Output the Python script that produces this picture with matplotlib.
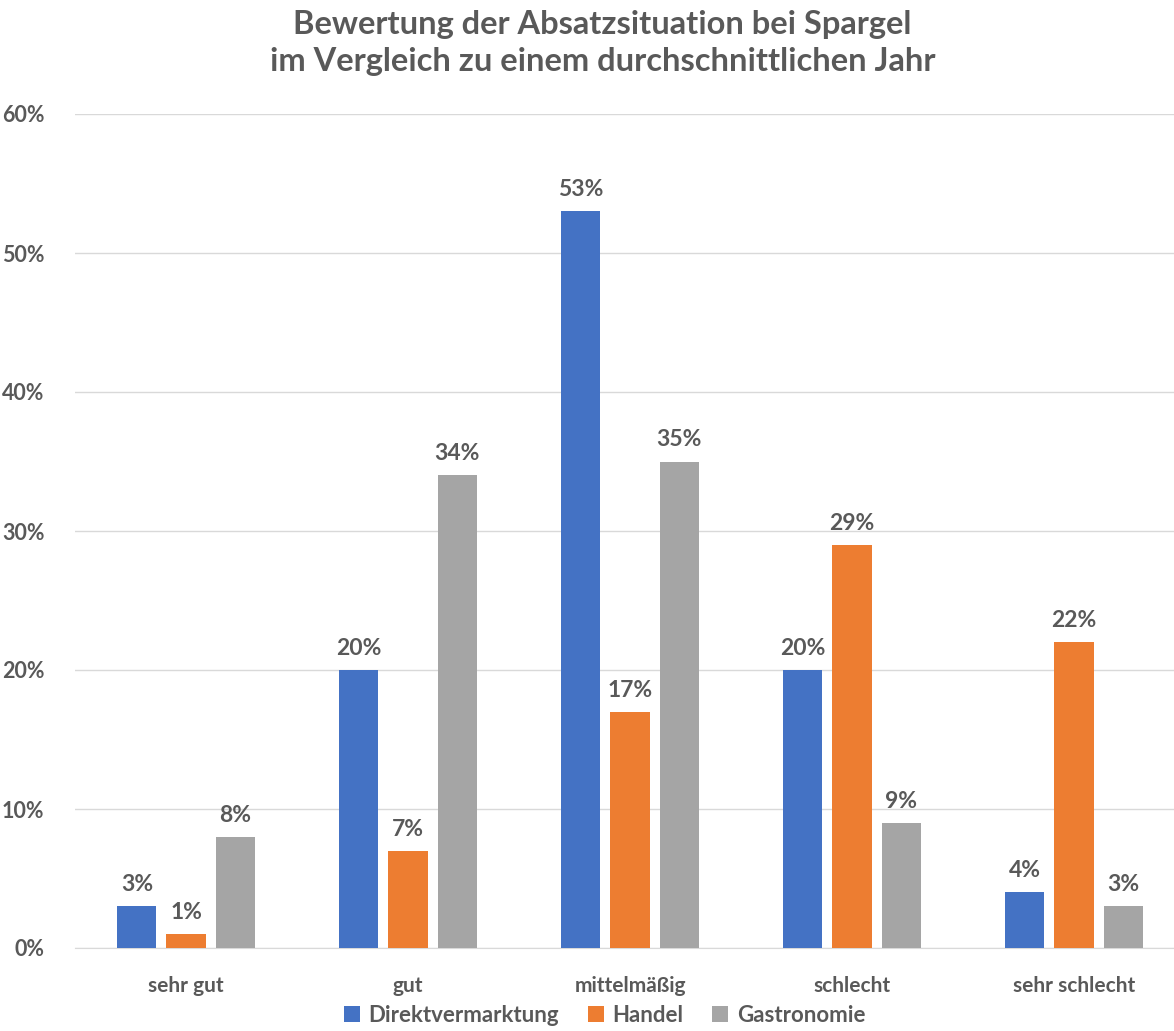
import numpy as np
import matplotlib.pyplot as plt
from matplotlib.ticker import PercentFormatter

plt.rcParams['font.family'] = ['Lato', 'DejaVu Sans']

categories = ['sehr gut', 'gut', 'mittelmäßig', 'schlecht', 'sehr schlecht']
series = ['Direktvermarktung', 'Handel', 'Gastronomie']
direkt = [3, 20, 53, 20, 4]
handel = [1, 7, 17, 29, 22]
gastro = [8, 34, 35, 9, 3]
colors = ['#4472C4', '#ED7D31', '#A5A5A5']
txt = '#595959'

fig = plt.figure(figsize=(11.74, 10.31), dpi=100)
ax = fig.add_axes([75/1174, 1 - 948/1031, 1110/1174, 834/1031])

x = np.arange(len(categories))
w = 0.176
step = 0.221
for i, (vals, name) in enumerate(zip([direkt, handel, gastro], series)):
    pos = x + (i - 1) * step
    bars = ax.bar(pos, vals, width=w, color=colors[i], label=name, zorder=3)
    for b, v in zip(bars, vals):
        ax.annotate(f'{v}%', (b.get_x() + b.get_width() / 2, v),
                    xytext=(0, 8), textcoords='offset points',
                    ha='center', va='bottom', fontsize=16.5,
                    fontweight='bold', color=txt)

ax.set_xlim(-0.5, 4.5)
ax.set_ylim(0, 60)
ax.set_yticks(range(0, 61, 10))
ax.yaxis.set_major_formatter(PercentFormatter(decimals=0))
ax.set_xticks(x)
ax.set_xticklabels(categories)
ax.grid(axis='y', color='#D9D9D9', linewidth=1, zorder=0)
for s in ['top', 'right', 'left']:
    ax.spines[s].set_visible(False)
ax.spines['bottom'].set_color('#D9D9D9')
ax.tick_params(axis='both', length=0, labelcolor=txt)
ax.tick_params(axis='x', pad=20, labelsize=15)
ax.tick_params(axis='y', pad=22, labelsize=15.5)
for lbl in ax.get_xticklabels() + ax.get_yticklabels():
    lbl.set_fontweight('bold')

fig.text(0.513, 1 - 43/1031,
         'Bewertung der Absatzsituation bei Spargel\nim Vergleich zu einem durchschnittlichen Jahr',
         ha='center', va='center', fontsize=23.5, fontweight='bold', color=txt,
         linespacing=1.33)

fig.legend(loc='center', bbox_to_anchor=(0.515, 1 - 1015/1031), ncol=3,
           frameon=False, handlelength=0.7, handleheight=0.7,
           columnspacing=1.3, handletextpad=0.4,
           prop={'weight': 'bold', 'size': 16})
for t in fig.legends[0].get_texts():
    t.set_color(txt)

fig.savefig('out.png', dpi=100)
